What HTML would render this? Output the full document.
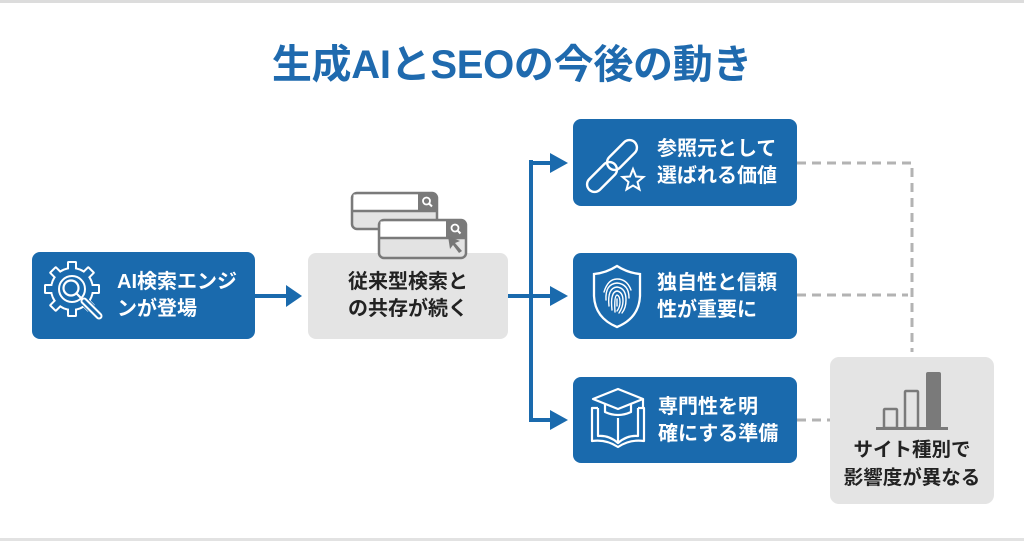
<!DOCTYPE html>
<html><head><meta charset="utf-8">
<style>
html,body{margin:0;padding:0;background:#fff;}
#c{position:relative;width:1024px;height:541px;overflow:hidden;background:#fff;font-family:"Liberation Sans","Noto Sans CJK JP",sans-serif;}
svg{position:absolute;left:0;top:0;}
.t{position:absolute;font-weight:bold;font-size:20px;line-height:27px;white-space:nowrap;font-family:"Liberation Sans","Noto Sans CJK JP",sans-serif;}
.w{color:#fff;}
.d{color:#222;text-align:center;}
#title{position:absolute;left:0;width:1024px;top:40px;text-align:center;font-size:40px;font-weight:bold;color:#1f6aae;line-height:50px;font-family:"Liberation Sans","Noto Sans CJK JP",sans-serif;letter-spacing:-0.3px;}
</style></head><body>
<div id="c">
<svg width="1024" height="541" viewBox="0 0 1024 541">
  <rect x="0" y="0" width="1024" height="3" fill="#dcdcdc"/>
  <rect x="0" y="538" width="1024" height="3" fill="#e2e2e2"/>

  <g stroke="#b3b3b3" stroke-width="3" fill="none" stroke-dasharray="9 6">
    <path d="M797 163 H912 V352"/>
    <path d="M797 295 H908"/>
    <path d="M797 420 H830"/>
  </g>

  <rect x="32" y="252" width="223" height="87" rx="8" fill="#1a6aad"/>
  <rect x="308" y="253" width="200" height="86" rx="8" fill="#e4e4e4"/>
  <rect x="573" y="119" width="224" height="87" rx="8" fill="#1a6aad"/>
  <rect x="573" y="253" width="224" height="86" rx="8" fill="#1a6aad"/>
  <rect x="573" y="377" width="224" height="86" rx="8" fill="#1a6aad"/>
  <rect x="830" y="357" width="164" height="147" rx="9" fill="#e4e4e4"/>

  <g fill="#1a6aad">
    <rect x="255" y="294" width="33" height="4"/>
    <polygon points="286,285 302,296 286,307"/>
    <rect x="508" y="294" width="24" height="4"/>
    <rect x="529" y="160" width="4" height="262"/>
    <rect x="529" y="161" width="23" height="4"/>
    <polygon points="550,153 568,163 550,173"/>
    <rect x="533" y="294" width="19" height="4"/>
    <polygon points="550,286 568,296 550,306"/>
    <rect x="529" y="418" width="23" height="4"/>
    <polygon points="550,410 568,420 550,430"/>
  </g>

  <g>
    <rect x="352" y="193" width="85" height="36" rx="5" fill="#e3e3e3" stroke="#7a7a7a" stroke-width="2.5"/>
    <path d="M353.5 194.5 H418 V211 H353.5 Z" fill="#fff"/>
    <path d="M418 193 H432 Q437 193 437 198 V211 H418 Z" fill="#7a7a7a"/>
    <line x1="352" y1="211" x2="437" y2="211" stroke="#7a7a7a" stroke-width="2.5"/>
    <circle cx="426.5" cy="201" r="3.5" fill="none" stroke="#fff" stroke-width="1.8"/>
    <line x1="429" y1="203.5" x2="432" y2="206.5" stroke="#fff" stroke-width="2"/>

    <rect x="379" y="220" width="87" height="38" rx="5" fill="#e3e3e3" stroke="#7a7a7a" stroke-width="2.5"/>
    <path d="M380.5 221.5 H446 V238 H380.5 Z" fill="#fff"/>
    <path d="M446 220 H461 Q466 220 466 225 V238 H446 Z" fill="#7a7a7a"/>
    <line x1="379" y1="238" x2="466" y2="238" stroke="#7a7a7a" stroke-width="2.5"/>
    <circle cx="455" cy="228" r="3.5" fill="none" stroke="#fff" stroke-width="1.8"/>
    <line x1="457.5" y1="230.5" x2="460.5" y2="233.5" stroke="#fff" stroke-width="2"/>
    <polygon points="448,236 460,241 455,243 462,251 459,253 453,245 450,249" fill="#777"/>
  </g>

  <g transform="translate(72,289)">
    <g fill="#fff">
      <circle r="22"/>
      <g id="teethW"><rect x="-5" y="-28" width="10" height="10" rx="1.5"/></g>
      <use href="#teethW" transform="rotate(45)"/>
      <use href="#teethW" transform="rotate(90)"/>
      <use href="#teethW" transform="rotate(135)"/>
      <use href="#teethW" transform="rotate(180)"/>
      <use href="#teethW" transform="rotate(225)"/>
      <use href="#teethW" transform="rotate(270)"/>
      <use href="#teethW" transform="rotate(315)"/>
    </g>
    <g fill="#1a6aad">
      <circle r="20"/>
      <g id="teethB"><rect x="-3" y="-26" width="6" height="9"/></g>
      <use href="#teethB" transform="rotate(45)"/>
      <use href="#teethB" transform="rotate(90)"/>
      <use href="#teethB" transform="rotate(135)"/>
      <use href="#teethB" transform="rotate(180)"/>
      <use href="#teethB" transform="rotate(225)"/>
      <use href="#teethB" transform="rotate(270)"/>
      <use href="#teethB" transform="rotate(315)"/>
    </g>
    <circle r="13" fill="none" stroke="#fff" stroke-width="2"/>
    <circle cx="-1" cy="-1" r="7.5" fill="#1a6aad" stroke="#fff" stroke-width="2.2"/>
    <path d="M4.5 4.5 L10 10" stroke="#fff" stroke-width="2.2"/>
    <path d="M13 13 L27 27" stroke="#1a6aad" stroke-width="9" stroke-linecap="round"/>
    <path d="M12 12 L27 27" stroke="#fff" stroke-width="7" stroke-linecap="round"/>
    <path d="M12 12 L27 27" stroke="#1a6aad" stroke-width="3" stroke-linecap="round"/>
  </g>

  <g fill="none" stroke="#fff" stroke-width="2.4">
    <rect x="-18" y="-7.5" width="36" height="15" rx="7.5" transform="translate(602,177) rotate(-45)"/>
    <rect x="-18" y="-7.5" width="36" height="15" rx="7.5" transform="translate(622,155) rotate(-45)"/>
    <polygon points="633,169 636,176.5 643.5,177 637.5,182 639.5,189.5 633,185.5 626.5,189.5 628.5,182 622.5,177 630,176.5" stroke-width="2" fill="#1a6aad"/>
  </g>

  <g fill="none" stroke="#fff" stroke-width="2.3" stroke-linecap="round">
    <path d="M617 266 Q606 273 594 274 L594 296 Q595 318 617 327 Q639 318 640 296 L640 274 Q628 273 617 266 Z"/>
    <g stroke-width="1.4">
      <path d="M606 300 Q605 284 617 283 Q629 284 629 298"/>
      <path d="M609 306 Q607 288 617 287 Q626 288 626 300 Q626 308 622 313"/>
      <path d="M612 310 Q610 292 617 291 Q623 292 623 301 Q623 307 619 313"/>
      <path d="M615 312 Q614 296 617 295 Q620 296 620 302 Q620 307 617 311"/>
      <path d="M617 299 L617 306"/>
      <path d="M604 292 Q608 279 617 279 Q627 279 631 290"/>
    </g>
  </g>

  <g fill="none" stroke="#fff" stroke-width="2.2" stroke-linejoin="round">
    <polygon points="618,389 643,399 618,409 593,399"/>
    <path d="M605 404 V412 Q618 418 631 412 V404"/>
    <path d="M643 399 V408"/>
    <path d="M598 408 H592 V441 Q606 439 618 447 Q630 439 644 441 V408 H638"/>
    <path d="M598 408 V436 Q609 435 618 443 Q627 435 638 436 V408"/>
    <path d="M618 418 V443"/>
  </g>

  <g>
    <rect x="884" y="409" width="13" height="19" fill="none" stroke="#7a7a7a" stroke-width="2.5" rx="1"/>
    <rect x="905" y="391" width="13" height="37" fill="none" stroke="#7a7a7a" stroke-width="2.5" rx="1"/>
    <rect x="926" y="372" width="15" height="56" fill="#7a7a7a" rx="2"/>
    <rect x="876" y="427" width="72" height="3" fill="#7a7a7a"/>
  </g>
</svg>

<div id="title">生成AIとSEOの今後の動き</div>

<div class="t w" style="left:117px;top:269px;">AI検索エンジ<br>ンが登場</div>
<div class="t d" style="left:308px;width:200px;top:269px;">従来型検索と<br>の共存が続く</div>
<div class="t w" style="left:657px;top:136px;">参照元として<br>選ばれる価値</div>
<div class="t w" style="left:657px;top:270px;">独自性と信頼<br>性が重要に</div>
<div class="t w" style="left:658px;top:394px;">専門性を明<br>確にする準備</div>
<div class="t d" style="left:830px;width:164px;top:436px;font-size:19.5px;line-height:28px;">サイト種別で<br>影響度が異なる</div>
</div>
</body></html>
